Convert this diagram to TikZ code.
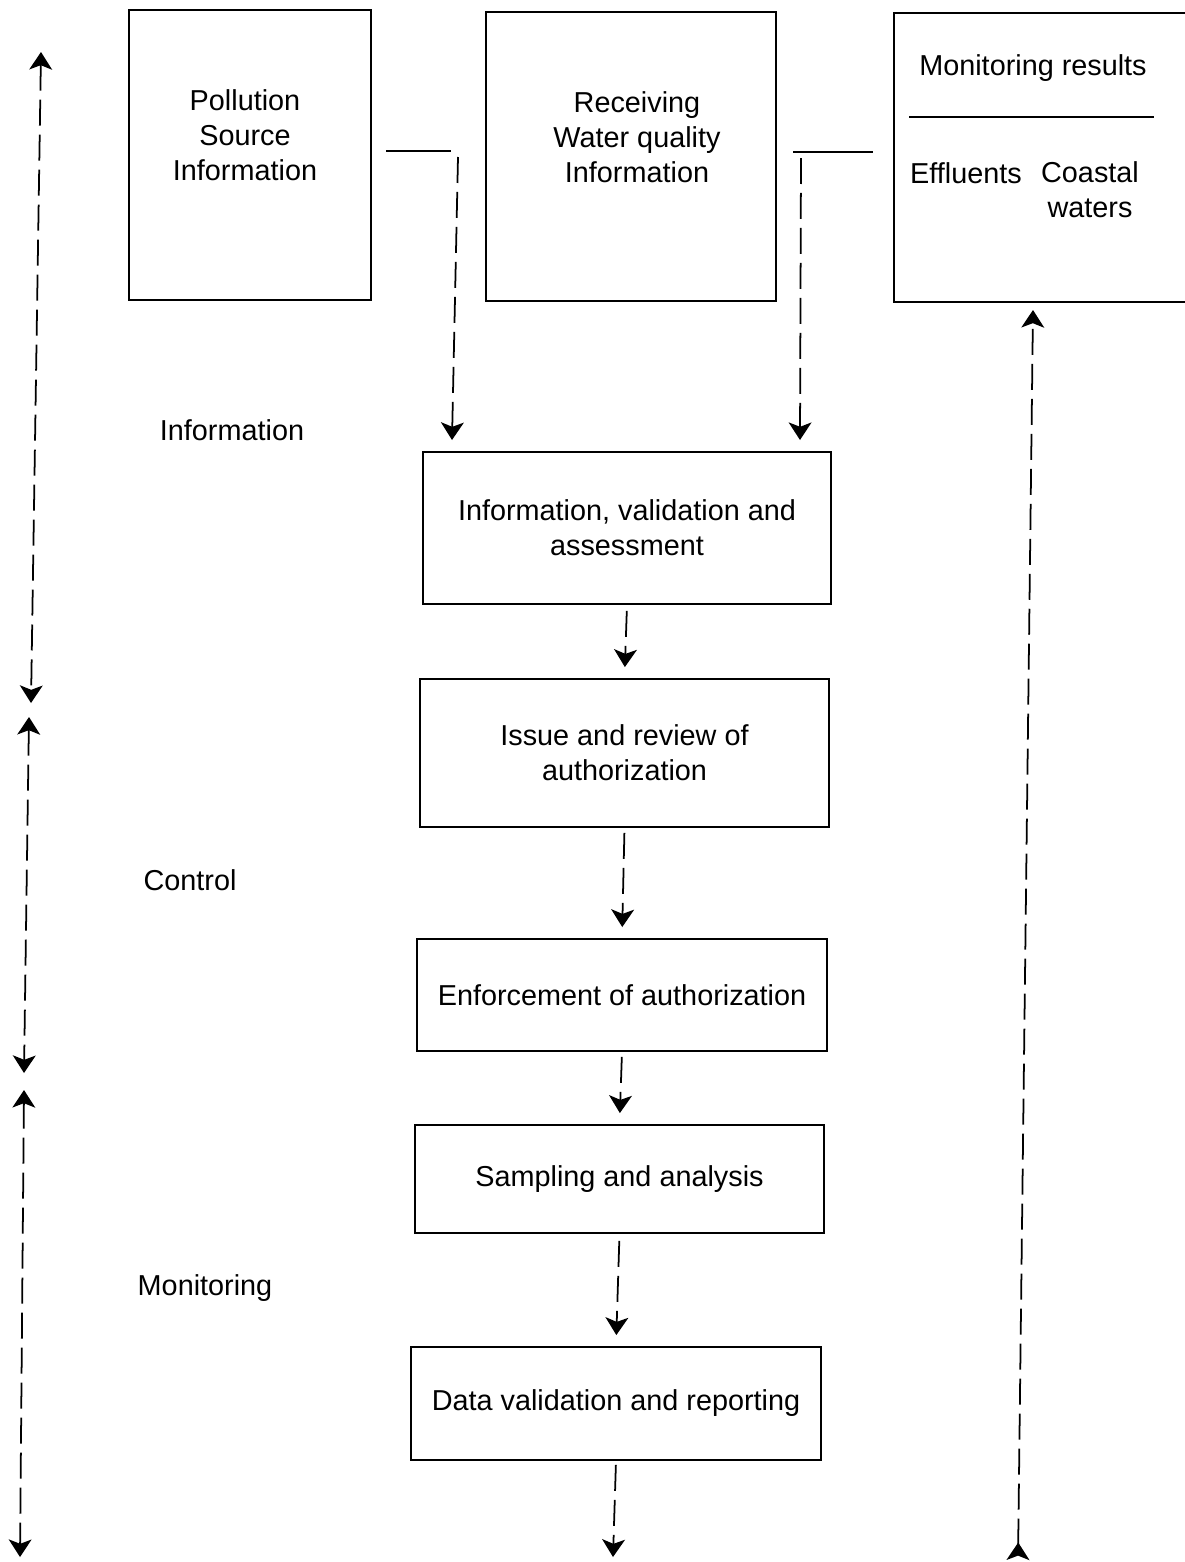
\documentclass[tikz,border=0pt]{standalone}
\usepackage{fontspec}
\setmainfont{Liberation Sans}
\usepackage{tikz}
\usetikzlibrary{arrows.meta}
\tikzset{tip/.tip={Stealth[length=10pt,width=13pt,inset=2.5pt,line width=1pt]}}
\tikzstyle{stage} = [rectangle, draw=black, line width=1.1pt, inner sep=0pt, align=center]
\tikzstyle{txt} = [draw=none, align=center, inner sep=0pt]
\tikzstyle{flow} = [-tip, line width=1pt, dash pattern=on 0.52cm off 0.18cm]
\tikzstyle{loop} = [tip-tip, line width=1pt, dash pattern=on 0.52cm off 0.18cm]
\tikzstyle{tie} = [-, line width=1.4pt]

\begin{document}
\begin{tikzpicture}[x=0.02cm, y=-0.02cm, font=\fontsize{16.4}{19.9}\selectfont]
\useasboundingbox (0,0) rectangle (1185,1562);
% information sources
\node [stage, minimum width=4.84cm, minimum height=5.80cm] (PS) at (250,155) {};
\node [txt] (PSt) at (245,135) {Pollution\\Source\\Information};
\node [stage, minimum width=5.80cm, minimum height=5.78cm] (RW) at (631,156.5) {};
\node [txt] (RWt) at (637,137) {Receiving\\Water quality\\Information};
\node [stage, minimum width=5.96cm, minimum height=5.78cm] (MR) at (1043,157.5) {};
\node [txt] (MRt) at (1033,68) {Monitoring results};
\coordinate (MRl) at (909,117);
\coordinate (MRr) at (1154,117);
\draw [tie] (MRl) -- (MRr);
\node [txt] (EF) at (966,173) {Effluents};
\node [txt] (CW) at (1090,190) {Coastal\\waters};
% stages
\node [stage, minimum width=8.16cm, minimum height=3.04cm] (IVA) at (627,528) {Information, validation and\\assessment};
\node [stage, minimum width=8.18cm, minimum height=2.96cm] (IRA) at (624.5,753) {Issue and review of\\authorization};
\node [stage, minimum width=8.20cm, minimum height=2.24cm] (EA) at (622,995) {Enforcement of authorization};
\node [stage, minimum width=8.18cm, minimum height=2.16cm] (SA) at (619.5,1179) {Sampling and analysis};
\node [stage, minimum width=8.20cm, minimum height=2.26cm] (DV) at (616,1403.5) {Data validation and reporting};
% phase labels
\node [txt] (Li) at (232,430) {Information};
\node [txt] (Lc) at (190,880) {Control};
\node [txt] (Lm) at (205,1288) {Monitoring};
% feeds from the sources
\coordinate (s1a) at (386,151);
\coordinate (s1b) at (451,151);
\coordinate (d1a) at (458,157);
\coordinate (d1b) at (452,440);
\draw [tie] (s1a) -- (s1b);
\draw [flow] (d1a) -- (d1b);
\coordinate (s2a) at (793,152);
\coordinate (s2b) at (873,152);
\coordinate (d2a) at (801,158);
\coordinate (d2b) at (800,440);
\draw [tie] (s2a) -- (s2b);
\draw [flow] (d2a) -- (d2b);
% chain of stages
\draw [flow, shorten <=0.12cm, shorten >=0.22cm] (IVA.south) -- (IRA.north);
\draw [flow, shorten <=0.10cm, shorten >=0.22cm] (IRA.south) -- (EA.north);
\draw [flow, shorten <=0.10cm, shorten >=0.22cm] (EA.south) -- (SA.north);
\draw [flow, shorten <=0.14cm, shorten >=0.22cm] (SA.south) -- (DV.north);
\coordinate (end) at (613,1557);
\draw [flow, shorten <=0.08cm] (DV.south) -- (end);
% phase spans on the left
\coordinate (l1a) at (41,52);
\coordinate (l1b) at (31,703);
\coordinate (l2a) at (29,717);
\coordinate (l2b) at (24,1073);
\coordinate (l3a) at (24,1090);
\coordinate (l3b) at (20,1557);
\draw [loop] (l1a) -- (l1b);
\draw [loop] (l2a) -- (l2b);
\draw [loop] (l3a) -- (l3b);
% back to monitoring results
\coordinate (rb) at (1018,1560);
\coordinate (rt) at (1033,310);
\draw [line width=1pt, dash pattern=on 0.52cm off 0.18cm, {tip[reversed]}-tip] (rb) -- (rt);
\end{tikzpicture}
\end{document}
